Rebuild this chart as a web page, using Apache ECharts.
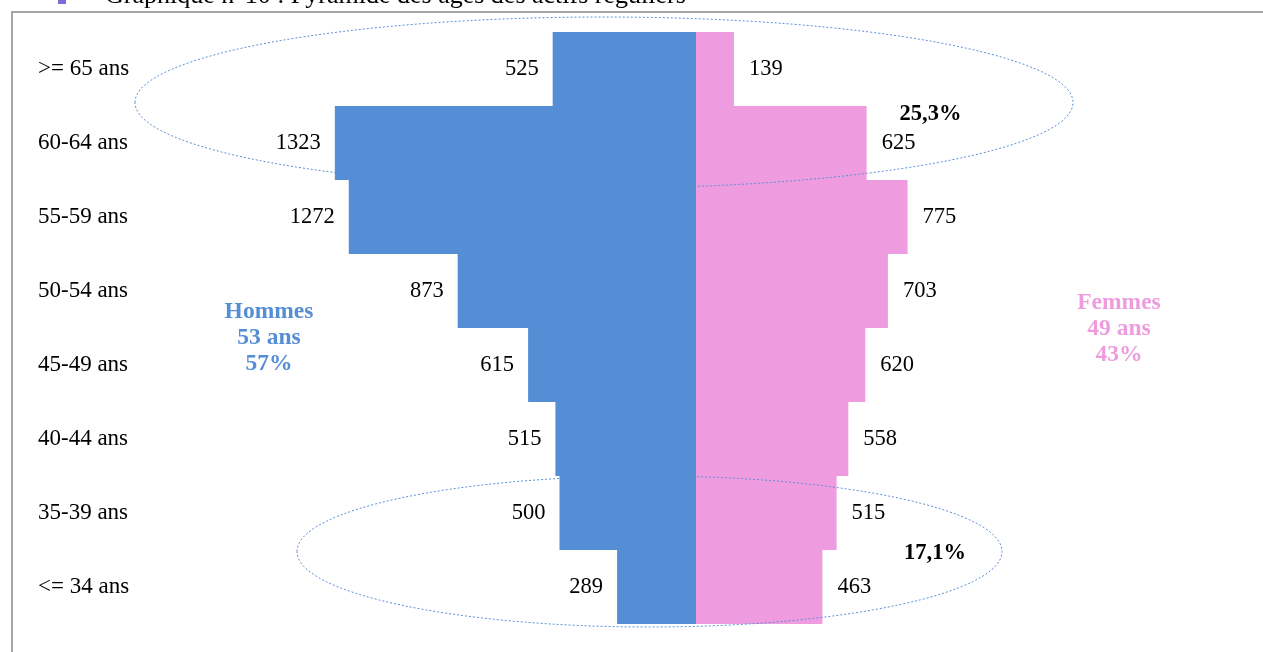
<!DOCTYPE html>
<html>
<head>
<meta charset="utf-8" />
<title>Pyramide des âges</title>
<script src="https://cdn.jsdelivr.net/npm/echarts@6/dist/echarts.min.js"></script>
<style>
  html,
  body {
    margin: 0;
    padding: 0;
    background: #ffffff;
  }
  #pyramide {
    width: 1263px;
    height: 652px;
  }
</style>
</head>
<body>
<div id="pyramide"></div>
<script>
// tranches d'age (du haut vers le bas)
var ages = [">= 65 ans", "60-64 ans", "55-59 ans", "50-54 ans", "45-49 ans", "40-44 ans", "35-39 ans", "<= 34 ans"];
// hommes / femmes
var hommes = [525, 1323, 1272, 873, 615, 515, 500, 289];
var femmes = [139, 625, 775, 703, 620, 558, 515, 463];

var bleu = "#558ed5";
var rose = "#ee9cdf";
var police = "Liberation Serif";

var myChart = echarts.init(document.getElementById("pyramide"));

// hommes a gauche => valeurs negatives
var hommesNeg = [];
for (var i = 0; i < hommes.length; i++) {
  hommesNeg.push(-hommes[i]);
}

myChart.setOption({
  animation: false,
  textStyle: { fontFamily: police },
  grid: {
    left: 286.5,
    top: 32,
    width: 819,
    height: 592, // 74px par tranche, pas de joint visible
  },
  xAxis: {
    type: "value",
    min: -1500,
    max: 1500,
    show: false,
  },
  yAxis: {
    type: "category",
    data: ages,
    inverse: true,
    axisLine: { show: false },
    axisTick: { show: false },
    splitLine: { show: false },
    axisLabel: {
      align: "left",
      margin: 248.5,
      color: "#000000",
      fontSize: 23,
      fontFamily: police,
    },
  },
  series: [
    {
      name: "Hommes",
      type: "bar",
      data: hommesNeg,
      barWidth: "100%",
      barGap: "-100%",
      barCategoryGap: 0,
      itemStyle: { color: bleu },
      label: {
        show: true,
        position: "left",
        distance: 14,
        color: "#000000",
        fontSize: 22.5,
        fontFamily: police,
        formatter: function (p) {
          return Math.abs(p.value);
        },
      },
    },
    {
      name: "Femmes",
      type: "bar",
      data: femmes,
      barWidth: "100%",
      barGap: "-100%",
      barCategoryGap: 0,
      itemStyle: { color: rose },
      label: {
        show: true,
        position: "right",
        distance: 15,
        color: "#000000",
        fontSize: 22.5,
        fontFamily: police,
      },
    },
  ],
  graphic: [
    // cadre
    {
      type: "polyline",
      shape: { points: [[12, 660], [12, 12], [1270, 12]] },
      style: { stroke: "#a6a6a6", lineWidth: 2, fill: null },
    },
    // titre (coupe en haut)
    {
      type: "text",
      left: 105,
      top: -17,
      style: {
        text: "Graphique n°10 : Pyramide des âges des actifs réguliers",
        fontFamily: police,
        fontSize: 26,
        fill: "#000000",
      },
    },
    {
      type: "rect",
      shape: { x: 58, y: 0, width: 8, height: 4 },
      style: { fill: "#7b6fd6" },
    },
    // ellipses en pointille
    {
      type: "ellipse",
      shape: { cx: 604, cy: 102.5, rx: 469, ry: 85.5 },
      style: { stroke: "#5b8fd8", lineWidth: 1, lineDash: [2, 2], fill: null },
      z: 10,
    },
    {
      type: "ellipse",
      shape: { cx: 649.5, cy: 551.5, rx: 352.5, ry: 75.5 },
      style: { stroke: "#5b8fd8", lineWidth: 1, lineDash: [2, 2], fill: null },
      z: 10,
    },
    // pourcentages
    {
      type: "text",
      x: 930.5,
      y: 114,
      style: {
        text: "25,3%",
        fontFamily: police,
        fontSize: 22.5,
        fontWeight: "bold",
        fill: "#000000",
        align: "center",
        verticalAlign: "middle",
      },
    },
    {
      type: "text",
      x: 935,
      y: 553,
      style: {
        text: "17,1%",
        fontFamily: police,
        fontSize: 22.5,
        fontWeight: "bold",
        fill: "#000000",
        align: "center",
        verticalAlign: "middle",
      },
    },
    // legendes
    {
      type: "text",
      x: 269,
      y: 338,
      style: {
        text: "Hommes\n53 ans\n57%",
        fontFamily: police,
        fontSize: 23.5,
        fontWeight: "bold",
        lineHeight: 26,
        fill: bleu,
        align: "center",
        verticalAlign: "middle",
      },
    },
    {
      type: "text",
      x: 1119,
      y: 329,
      style: {
        text: "Femmes\n49 ans\n43%",
        fontFamily: police,
        fontSize: 23.5,
        fontWeight: "bold",
        lineHeight: 26,
        fill: rose,
        align: "center",
        verticalAlign: "middle",
      },
    },
  ],
});
</script>
</body>
</html>
